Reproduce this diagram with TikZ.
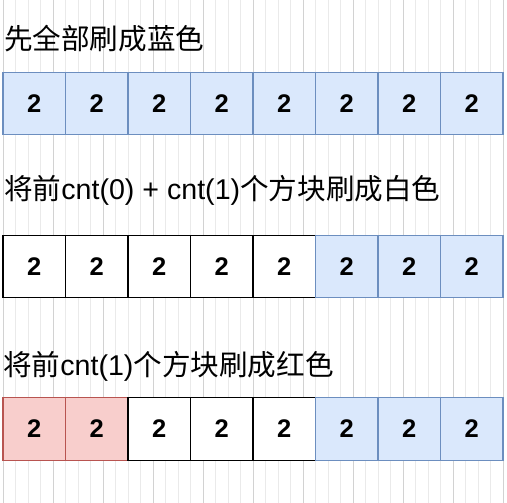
\documentclass[tikz,border=0pt]{standalone}
\usepackage{fontspec}
\setmainfont{Liberation Sans}
\newfontfamily\cjk{Noto Sans CJK SC}
\usetikzlibrary{positioning}
\definecolor{bluefill}{HTML}{DAE8FC}
\definecolor{blueline}{HTML}{6C8EBF}
\definecolor{redfill}{HTML}{F8CECC}
\definecolor{redline}{HTML}{B85450}
\definecolor{gridminor}{HTML}{EAEAEA}
\definecolor{gridmajor}{HTML}{D2D2D2}

\begin{document}
\begin{tikzpicture}[x=1pt, y=-1pt,
        cell/.style={draw, rectangle, minimum size=62.5pt, inner sep=0pt, outer sep=0pt, line width=1.25pt, font=\fontsize{25.5}{30}\selectfont\bfseries},
        bluecell/.style={cell, fill=bluefill, draw=blueline},
        whitecell/.style={cell, fill=white, draw=black},
        redcell/.style={cell, fill=redfill, draw=redline},
        title/.style={anchor=base west, inner sep=0pt, font=\fontsize{28.6}{34}\selectfont}]
        \useasboundingbox (0,0) rectangle (507,503);
        % background grid
        \fill[white] (0,0) rectangle (507,503);
        \begin{scope}
            \clip (0,0) rectangle (507,503);
            \begin{scope}[shift={(3.3,47.7)}]
                \draw[gridminor, line width=1pt, step=12.5] (-100,-100) grid (550,500);
                \draw[gridmajor, line width=1pt, step=50] (-100,-100) grid (550,500);
            \end{scope}
        \end{scope}

        % row 1
        \node[title] (t1) at (4,50) {{\cjk 先全部刷成蓝色}};
        \foreach \i in {1,...,8}
            \node[bluecell] (a\i) at ({34.25+62.5*(\i-1)}, 103.5) {2};

        % row 2
        \node[title] (t2) at (4,200) {{\cjk 将前}cnt(0) + cnt(1){\cjk 个方块刷成白色}};
        \foreach \i in {1,...,5}
            \node[whitecell] (b\i) at ({34.25+62.5*(\i-1)}, 266.5) {2};
        \foreach \i in {6,7,8}
            \node[bluecell] (b\i) at ({34.25+62.5*(\i-1)}, 266.5) {2};

        % row 3
        \node[title] (t3) at (3,375) {{\cjk 将前}cnt(1){\cjk 个方块刷成红色}};
        \foreach \i in {1,2}
            \node[redcell] (c\i) at ({34.25+62.5*(\i-1)}, 429) {2};
        \foreach \i in {3,4,5}
            \node[whitecell] (c\i) at ({34.25+62.5*(\i-1)}, 429) {2};
        \foreach \i in {6,7,8}
            \node[bluecell] (c\i) at ({34.25+62.5*(\i-1)}, 429) {2};
    \end{tikzpicture}
\end{document}
